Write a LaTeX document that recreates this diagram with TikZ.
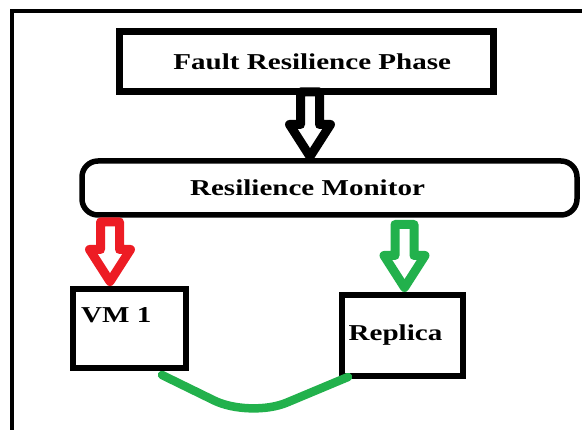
\documentclass[tikz,border=0pt]{standalone}
\usepackage{fontspec}
\newfontfamily\lblfont{Liberation Serif}[FakeStretch=1.28]
\usetikzlibrary{calc}
\definecolor{paintred}{HTML}{ED1C24}
\definecolor{paintgreen}{HTML}{22B14C}
% hollow block arrow: colour, top of shaft, tip
\newcommand\hollowarrow[3]{%
  \draw[fatarrow,draw=#1] let \p1=#2, \p2=#3 in
    (\x2-9.5pt,\y1) -- (\x2-9.5pt,\y2+32pt) -- (\x2-20.5pt,\y2+32pt) -- (\x2,\y2)
    -- (\x2+20.5pt,\y2+32pt) -- (\x2+9.5pt,\y2+32pt) -- (\x2+9.5pt,\y1) -- cycle;}
\begin{document}
\begin{tikzpicture}[x=1pt,y=-1pt,
  box/.style={draw,line width=6pt,fill=white,inner sep=0pt,outer sep=0pt},
  lbl/.style={font=\lblfont\bfseries\fontsize{22.7}{26}\selectfont,inner sep=0pt},
  fatarrow/.style={line width=9pt,fill=white,line join=round}]
\useasboundingbox (0,0) rectangle (582,430);
\draw[line width=4pt] (12,430) -- (12,11) -- (582,11);
\node[box,line width=7pt,minimum width=373.5pt,minimum height=60.5pt] (fault) at (306.25,61.75) {};
\node[lbl] (faultlbl) at ([xshift=6pt]fault.center) {Fault Resilience Phase};
\node[box,line width=5.5pt,rounded corners=16pt,minimum width=495pt,minimum height=54pt] (mon) at (329.5,188) {};
\node[lbl] (monlbl) at ([xshift=-22pt]mon.center) {Resilience Monitor};
\node[box,minimum width=113pt,minimum height=79pt] (vm) at (129.5,328.5) {};
\node[lbl,anchor=base west] (vmlbl) at ([shift={(8pt,-34pt)}]vm.north west) {VM 1};
\node[box,minimum width=121pt,minimum height=81pt] (rep) at (402.5,335.5) {};
\node[lbl] (replbl) at ([xshift=-7pt]rep.center) {Replica};
\hollowarrow{black}{([xshift=4pt]fault.south)}{([shift={(-19.5pt,4.5pt)}]mon.north)}
\hollowarrow{paintred}{([yshift=-7pt]mon.south)}{([shift={(-19.5pt,7.5pt)}]vm.north)}
\hollowarrow{paintgreen}{([yshift=-9.5pt]mon.south)}{([shift={(2pt,7.5pt)}]rep.north)}
\coordinate (dip) at (250,418);
\draw[paintgreen,line width=8.5pt,line cap=round,rounded corners=40pt]
  ([shift={(-24pt,-7pt)}]vm.south east) -- (dip) -- ([shift={(6pt,-1pt)}]rep.south west);
\end{tikzpicture}
\end{document}
